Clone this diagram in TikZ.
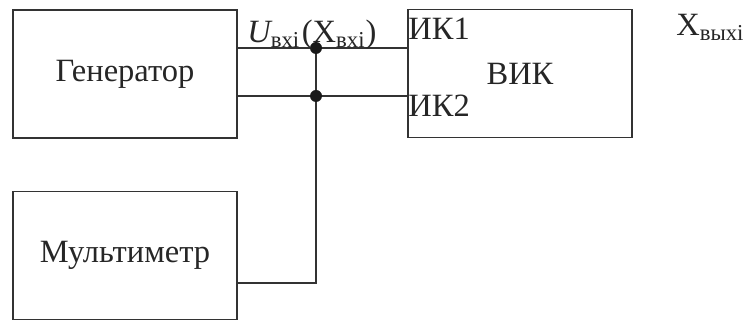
\documentclass[tikz,border=0pt]{standalone}
\usepackage{fontspec}
\setmainfont{Liberation Serif}
\usetikzlibrary{positioning, calc}

\begin{document}
\begin{tikzpicture}[
    x=0.02cm, y=-0.02cm,
    block/.style={draw=black!80, line width=1pt, minimum width=4.48cm, minimum height=2.56cm, inner sep=0pt, font=\fontsize{18.5}{21}\selectfont, text=black!85},
    wire/.style={draw=black!80, line width=1pt},
    port/.style={inner sep=0pt, font=\fontsize{18.5}{21}\selectfont, text=black!85},
    junction/.style={circle, fill=black!90, inner sep=0pt, minimum size=0.24cm}
]
    \useasboundingbox (0,0) rectangle (744,323);

    % Blocks
    \node[block] (gen) at (125,74) {Генератор};
    \node[block] (vik) at (520,73.5) {ВИК};
    \node[block] (mult) at (125,255.5) {Мультиметр};

    % Junction points
    \coordinate (j1) at (316,48);
    \coordinate (j2) at (316,96);
    \coordinate (m) at (316,283);

    % Wires
    \draw[wire] (gen.east |- j1) -- (j1) -- (vik.west |- j1);
    \draw[wire] (gen.east |- j2) -- (j2) -- (vik.west |- j2);
    \draw[wire] (j1) -- (m) -- (mult.east |- m);
    \node[junction] (d1) at (j1) {};
    \node[junction] (d2) at (j2) {};

    % Labels
    \node[port, anchor=base west] (uin) at (247,43) {{\itshape U}\textsubscript{вхі}\kern1pt(Х\textsubscript{вхі})};
    \node[port, anchor=base west] (ik1) at ($(vik.west |- j1)+(1,-8)$) {ИК1};
    \node[port, anchor=base west] (ik2) at ($(vik.west |- j2)+(1,21)$) {ИК2};
    \node[port, anchor=base west] (xout) at (676,36) {Х\textsubscript{выхі}};

\end{tikzpicture}
\end{document}
